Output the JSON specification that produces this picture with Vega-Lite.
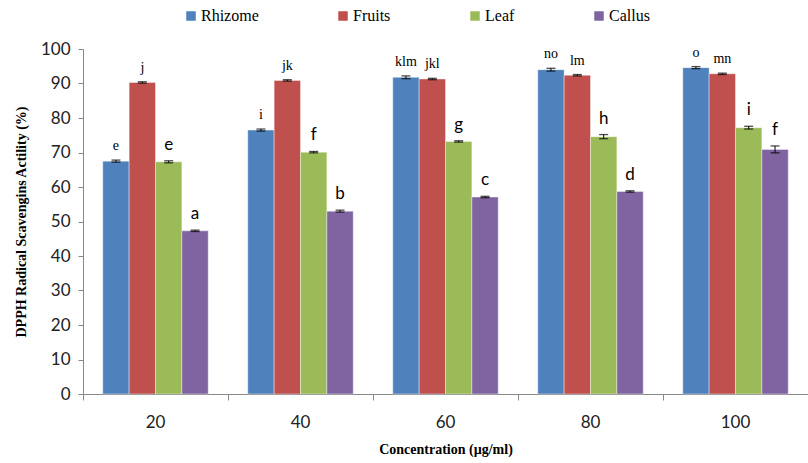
{
  "$schema": "https://vega.github.io/schema/vega-lite/v6.json",
  "autosize": {"type": "none"},
  "width": 725,
  "height": 345,
  "padding": {"left": 83, "top": 49, "right": 0, "bottom": 69},
  "background": "white",
  "config": {
    "view": {"stroke": null},
    "legend": {"labelFont": "Liberation Serif", "labelFontSize": 16, "labelColor": "black"},
    "axisY": {
      "labelOverlap": false,
      "titleFont": "Liberation Serif",
      "titleFontSize": 14,
      "titleFontWeight": "bold",
      "titleColor": "black",
      "titlePadding": 12,
      "labelFont": "Lato",
      "labelFontSize": 17,
      "labelColor": "#222222",
      "labelPadding": 8,
      "tickSize": 5,
      "tickColor": "#888888",
      "domainColor": "#888888",
      "grid": false
    }
  },
  "data": {
    "values": [
      {"conc": "20", "part": "Rhizome", "value": 67.5, "err": 0.3, "label": "e"},
      {"conc": "20", "part": "Fruits", "value": 90.3, "err": 0.2, "label": "j"},
      {"conc": "20", "part": "Leaf", "value": 67.3, "err": 0.3, "label": "e"},
      {"conc": "20", "part": "Callus", "value": 47.3, "err": 0.2, "label": "a"},
      {"conc": "40", "part": "Rhizome", "value": 76.5, "err": 0.3, "label": "i"},
      {"conc": "40", "part": "Fruits", "value": 90.9, "err": 0.2, "label": "jk"},
      {"conc": "40", "part": "Leaf", "value": 70.1, "err": 0.2, "label": "f"},
      {"conc": "40", "part": "Callus", "value": 53.0, "err": 0.3, "label": "b"},
      {"conc": "60", "part": "Rhizome", "value": 91.8, "err": 0.4, "label": "klm"},
      {"conc": "60", "part": "Fruits", "value": 91.3, "err": 0.2, "label": "jkl"},
      {"conc": "60", "part": "Leaf", "value": 73.2, "err": 0.2, "label": "g"},
      {"conc": "60", "part": "Callus", "value": 57.1, "err": 0.2, "label": "c"},
      {"conc": "80", "part": "Rhizome", "value": 94.0, "err": 0.4, "label": "no"},
      {"conc": "80", "part": "Fruits", "value": 92.4, "err": 0.2, "label": "lm"},
      {"conc": "80", "part": "Leaf", "value": 74.6, "err": 0.6, "label": "h"},
      {"conc": "80", "part": "Callus", "value": 58.7, "err": 0.2, "label": "d"},
      {"conc": "100", "part": "Rhizome", "value": 94.6, "err": 0.3, "label": "o"},
      {"conc": "100", "part": "Fruits", "value": 92.8, "err": 0.2, "label": "mn"},
      {"conc": "100", "part": "Leaf", "value": 77.2, "err": 0.4, "label": "i"},
      {"conc": "100", "part": "Callus", "value": 70.9, "err": 1.0, "label": "f"}
    ]
  },
  "transform": [
    {"calculate": "datum.value - datum.err", "as": "lo"},
    {"calculate": "datum.value + datum.err", "as": "hi"}
  ],
  "encoding": {
    "x": {
      "field": "conc",
      "type": "nominal",
      "sort": ["20", "40", "60", "80", "100"],
      "scale": {"paddingInner": 0, "paddingOuter": 0},
      "axis": {
        "title": "Concentration (µg/ml)",
        "titleFont": "Liberation Serif",
        "titleFontSize": 14,
        "titleFontWeight": "bold",
        "titleColor": "black",
        "titlePadding": 12,
        "labelFont": "Lato",
        "labelFontSize": 17,
        "labelColor": "#222222",
        "labelAngle": 0,
        "labelPadding": 14,
        "bandPosition": 0,
        "tickSize": 6,
        "tickColor": "#888888",
        "domainColor": "#888888",
        "grid": false
      }
    },
    "xOffset": {
      "field": "part",
      "type": "nominal",
      "sort": ["Rhizome", "Fruits", "Leaf", "Callus"],
      "scale": {"paddingInner": 0, "paddingOuter": 0.75}
    }
  },
  "layer": [
    {
      "mark": {"type": "bar", "stroke": "white", "strokeOpacity": 0.4, "strokeWidth": 1},
      "encoding": {
        "y": {
          "field": "value",
          "type": "quantitative",
          "scale": {"domain": [0, 100], "nice": false},
          "axis": {"values": [0, 10, 20, 30, 40, 50, 60, 70, 80, 90, 100], "title": "DPPH Radical Scavengins Actility (%)"}
        },
        "color": {
          "field": "part",
          "type": "nominal",
          "sort": ["Rhizome", "Fruits", "Leaf", "Callus"],
          "scale": {
            "domain": ["Rhizome", "Fruits", "Leaf", "Callus"],
            "range": ["#4F81BD", "#C0504D", "#9BBB59", "#8064A2"]
          },
          "legend": {
            "title": null,
            "orient": "none",
            "direction": "horizontal",
            "legendX": 100,
            "legendY": -41,
            "symbolType": "square",
            "symbolSize": 90,
            "symbolStrokeWidth": 0,
            "labelFont": "Liberation Serif",
            "labelFontSize": 16,
            "labelColor": "black",
            "labelOffset": 2,
            "columnPadding": 76,
            "padding": 0
          }
        }
      }
    },
    {
      "mark": {"type": "rule", "color": "black", "strokeWidth": 1},
      "encoding": {
        "y": {"field": "lo", "type": "quantitative", "axis": {"values": [0, 10, 20, 30, 40, 50, 60, 70, 80, 90, 100], "title": "DPPH Radical Scavengins Actility (%)"}},
        "y2": {"field": "hi"}
      }
    },
    {
      "mark": {"type": "tick", "color": "black", "thickness": 1.3, "size": 9},
      "encoding": {"y": {"field": "lo", "type": "quantitative", "axis": {"values": [0, 10, 20, 30, 40, 50, 60, 70, 80, 90, 100], "title": "DPPH Radical Scavengins Actility (%)"}}}
    },
    {
      "mark": {"type": "tick", "color": "black", "thickness": 1.3, "size": 9},
      "encoding": {"y": {"field": "hi", "type": "quantitative", "axis": {"values": [0, 10, 20, 30, 40, 50, 60, 70, 80, 90, 100], "title": "DPPH Radical Scavengins Actility (%)"}}}
    },
    {
      "transform": [{"filter": "datum.part == 'Rhizome' || datum.part == 'Fruits'"}],
      "mark": {"type": "text", "font": "Liberation Serif", "fontSize": 14, "baseline": "bottom", "dy": -7, "color": "black"},
      "encoding": {
        "y": {"field": "hi", "type": "quantitative", "axis": {"values": [0, 10, 20, 30, 40, 50, 60, 70, 80, 90, 100], "title": "DPPH Radical Scavengins Actility (%)"}},
        "text": {"field": "label"}
      }
    },
    {
      "transform": [{"filter": "datum.part == 'Leaf' || datum.part == 'Callus'"}],
      "mark": {"type": "text", "font": "Lato", "fontSize": 17, "baseline": "bottom", "dy": -7, "color": "black"},
      "encoding": {
        "y": {"field": "hi", "type": "quantitative", "axis": {"values": [0, 10, 20, 30, 40, 50, 60, 70, 80, 90, 100], "title": "DPPH Radical Scavengins Actility (%)"}},
        "text": {"field": "label"}
      }
    }
  ]
}
